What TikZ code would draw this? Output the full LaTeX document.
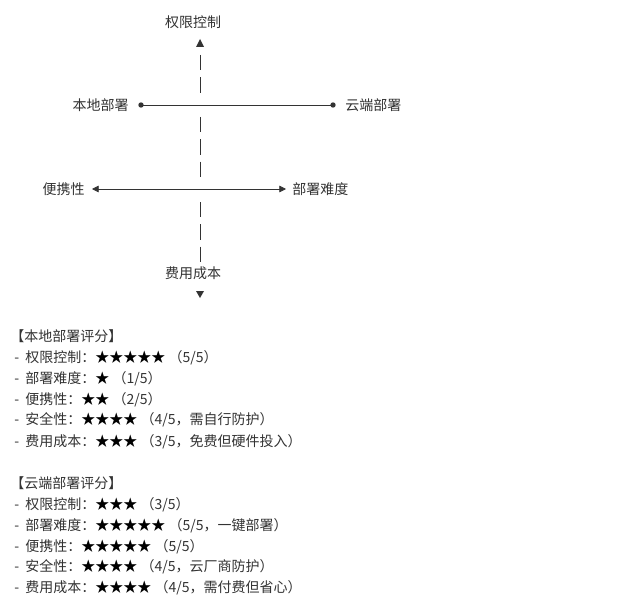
\documentclass[tikz,border=0pt]{standalone}
\usepackage{fontspec}
\setmainfont{Noto Sans CJK SC}
\usetikzlibrary{arrows.meta}
\definecolor{ink}{HTML}{333333}
\newcommand{\rate}[1]{\textcolor{black}{#1}}
\begin{document}
\begin{tikzpicture}[x=0.75pt,y=-0.75pt,
  >={Triangle[length=5pt,width=5pt]},
  lbl/.style={font=\fontsize{10.5}{12}\selectfont,text=ink,inner sep=0pt},
  row/.style={lbl,anchor=west},
  axis/.style={draw=ink,line width=0.6pt},
  vdash/.style={axis,dash pattern=on 11.5pt off 5.25pt}]
\useasboundingbox[fill=white] (0,0) rectangle (636,610);

% quadrant labels
\node[lbl] (ctrl) at (193,22) {权限控制};
\node[lbl] (cost) at (193,273) {费用成本};
\node[lbl,anchor=east] (local) at (129,105) {本地部署};
\node[lbl,anchor=west] (cloud) at (345,105) {云端部署};
\node[lbl,anchor=east] (port) at (85,189) {便携性};
\node[lbl,anchor=west] (diff) at (292,189) {部署难度};

% deployment line
\coordinate (ldot) at (141,105);
\coordinate (rdot) at (333,105);
\draw[axis] (ldot) -- (rdot);
\fill[ink] (ldot) circle (2pt) (rdot) circle (2pt);

% difficulty axis
\coordinate (pl) at (92,189);
\coordinate (pr) at (286,189);
\draw[axis,<->] (pl) -- (pr);

% vertical axis, broken at the rows
\coordinate (up) at (200,39);
\coordinate (down) at (200,298);
\draw[vdash] (200,55) -- (200,93);
\draw[vdash] (200,117) -- (200,177);
\draw[vdash] (200,202) -- (200,262);
\fill[ink] (up) -- ++(4,8) -- ++(-8,0) -- cycle;
\fill[ink] (down) -- ++(4,-7) -- ++(-8,0) -- cycle;

% scores
\node[row] (h1) at (10,336) {【本地部署评分】};
\node[row] (a1) at (14,358) {-\ \ 权限控制：\rate{★★★★★} （5/5）};
\node[row] (a2) at (14,379) {-\ \ 部署难度：\rate{★} （1/5）};
\node[row] (a3) at (14,400) {-\ \ 便携性：\rate{★★} （2/5）};
\node[row] (a4) at (14,420) {-\ \ 安全性：\rate{★★★★} （4/5，需自行防护）};
\node[row] (a5) at (14,442) {-\ \ 费用成本：\rate{★★★} （3/5，免费但硬件投入）};

\node[row] (h2) at (10,483) {【云端部署评分】};
\node[row] (b1) at (14,505) {-\ \ 权限控制：\rate{★★★} （3/5）};
\node[row] (b2) at (14,526) {-\ \ 部署难度：\rate{★★★★★} （5/5，一键部署）};
\node[row] (b3) at (14,547) {-\ \ 便携性：\rate{★★★★★} （5/5）};
\node[row] (b4) at (14,567) {-\ \ 安全性：\rate{★★★★} （4/5，云厂商防护）};
\node[row] (b5) at (14,588) {-\ \ 费用成本：\rate{★★★★} （4/5，需付费但省心）};
\end{tikzpicture}
\end{document}
